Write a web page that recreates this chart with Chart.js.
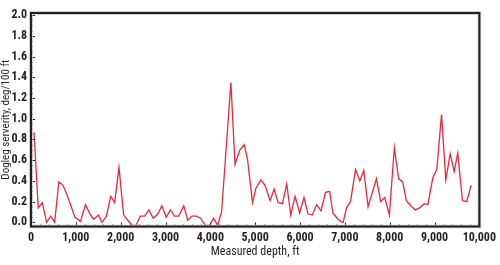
<!DOCTYPE html>
<html>
<head>
<meta charset="utf-8">
<script src="https://cdn.jsdelivr.net/npm/chart.js@4/dist/chart.umd.min.js"></script>
<style>
    html, body { margin: 0; padding: 0; background: #fff; }
    .wrap { width: 500px; height: 265px; position: relative; }
</style>
</head>
<body>
<div class="wrap"><canvas id="dlsChart" width="500" height="265"></canvas></div>
<script>
// Survey data
const depth = [67, 162, 251, 349, 438, 527, 622, 711, 800, 890, 978, 1104, 1216, 1327, 1400, 1504, 1584, 1682, 1778, 1867,
    1962, 2067, 2160, 2260, 2340, 2438, 2533, 2629, 2727, 2829, 2918, 3016, 3111, 3200, 3296, 3407, 3496, 3593, 3689, 3778,
    3889, 3984, 4073, 4162, 4251, 4459, 4549, 4660, 4756, 4829, 4940, 5016, 5127, 5216, 5333, 5422, 5511, 5607, 5704, 5793,
    5889, 5993, 6089, 6178, 6273, 6371, 6467, 6571, 6660, 6733, 6829, 6904, 6962, 7038, 7127, 7238, 7333, 7422, 7518, 7704,
    7800, 7889, 7993, 8104, 8200, 8289, 8371, 8470, 8571, 8667, 8771, 8851, 8962, 9051, 9156, 9251, 9349, 9438, 9518, 9622,
    9718, 9816];
const dogleg = [0.87, 0.14, 0.19, 0.0, 0.06, 0.0, 0.39, 0.36, 0.27, 0.16, 0.05, 0.01, 0.17, 0.07, 0.03, 0.07, 0.0, 0.06, 0.25, 0.19,
    0.53, 0.07, 0.02, -0.03, -0.03, 0.06, 0.06, 0.12, 0.04, 0.08, 0.16, 0.05, 0.12, 0.06, 0.06, 0.16, 0.02, 0.06, 0.06, 0.04,
    -0.03, -0.03, 0.04, -0.03, 0.10, 1.35, 0.56, 0.70, 0.75, 0.61, 0.19, 0.33, 0.41, 0.36, 0.21, 0.32, 0.19, 0.18, 0.37, 0.07,
    0.25, 0.09, 0.24, 0.08, 0.07, 0.17, 0.11, 0.29, 0.30, 0.09, 0.04, 0.01, 0.0, 0.14, 0.20, 0.51, 0.40, 0.50, 0.15, 0.42,
    0.20, 0.24, 0.07, 0.72, 0.42, 0.39, 0.21, 0.16, 0.12, 0.14, 0.18, 0.17, 0.43, 0.51, 1.04, 0.41, 0.66, 0.49, 0.67, 0.21,
    0.20, 0.36];

const xTicks = [0, 1000, 2000, 3000, 4000, 5000, 6000, 7000, 8000, 9000, 10000];
const yTicks = [0, 0.2, 0.4, 0.6, 0.8, 1.0, 1.2, 1.4, 1.6, 1.8, 2.0];

const FONT = "'Roboto Condensed', 'DejaVu Sans Condensed', sans-serif";
const INK = '#231f20';

// Frame around the plot plus inward tick marks
const framePlugin = {
    id: 'frame',
    afterDraw(chart) {
        const { ctx, chartArea: a, scales: { x, y } } = chart;
        ctx.save();
        ctx.strokeStyle = INK;
        ctx.lineWidth = 1;
        // major / minor ticks on bottom axis
        for (let v = 0; v <= 10000; v += 200) {
            const px = Math.round(x.getPixelForValue(v)) + 0.5;
            const len = v % 1000 === 0 ? 4 : 2;
            ctx.beginPath();
            ctx.moveTo(px, a.bottom);
            ctx.lineTo(px, a.bottom - len);
            ctx.stroke();
        }
        // major / minor ticks on left axis
        for (let i = 0; i <= 40; i++) {
            const py = Math.round(y.getPixelForValue(i * 0.05)) + 0.5;
            const len = i % 4 === 0 ? 4 : 2;
            ctx.beginPath();
            ctx.moveTo(a.left, py);
            ctx.lineTo(a.left + len, py);
            ctx.stroke();
        }
        // soft halo then dark frame
        ctx.strokeStyle = '#c8c8c8';
        ctx.lineWidth = 3.5;
        ctx.strokeRect(a.left, a.top, a.right - a.left, a.bottom - a.top);
        ctx.strokeStyle = INK;
        ctx.lineWidth = 2;
        ctx.strokeRect(a.left, a.top, a.right - a.left, a.bottom - a.top);
        ctx.restore();
    }
};

new Chart(document.getElementById('dlsChart'), {
    type: 'line',
    data: {
        datasets: [{
            data: depth.map((d, i) => ({ x: d, y: dogleg[i] })),
            borderColor: '#e8283c',
            borderWidth: 1.3,
            pointRadius: 0,
            tension: 0,
            fill: false
        }]
    },
    options: {
        responsive: false,
        animation: false,
        layout: { padding: { top: 13, right: 18, bottom: 0, left: 0 } },
        plugins: {
            legend: { display: false },
            tooltip: { enabled: false }
        },
        scales: {
            x: {
                type: 'linear',
                min: 0,
                max: 10000,
                afterFit: (s) => { s.height = 38.5; },
                afterBuildTicks: (s) => { s.ticks = xTicks.map(v => ({ value: v })); },
                grid: { display: false, drawTicks: false },
                border: { display: false },
                ticks: {
                    padding: 4,
                    color: INK,
                    font: { family: FONT, size: 12, weight: 'bold' },
                    maxRotation: 0,
                    callback: (v) => v.toLocaleString('en-US')
                },
                title: {
                    display: true,
                    text: 'Measured depth, ft',
                    color: INK,
                    font: { family: FONT, size: 12 },
                    padding: { top: 0, bottom: 5.5 }
                }
            },
            y: {
                min: -0.04,
                max: 2.02,
                afterFit: (s) => { s.width = 31; },
                afterBuildTicks: (s) => { s.ticks = yTicks.map(v => ({ value: v })); },
                grid: { display: false, drawTicks: false },
                border: { display: false },
                ticks: {
                    padding: 4,
                    color: INK,
                    font: { family: FONT, size: 12, weight: 'bold' },
                    callback: (v) => v.toFixed(1)
                },
                title: {
                    display: true,
                    text: 'Dogleg serverity, deg/100 ft',
                    color: INK,
                    font: { family: FONT, size: 11 },
                    padding: { top: 0, bottom: 0 }
                }
            }
        }
    },
    plugins: [framePlugin]
});
</script>
</body>
</html>
